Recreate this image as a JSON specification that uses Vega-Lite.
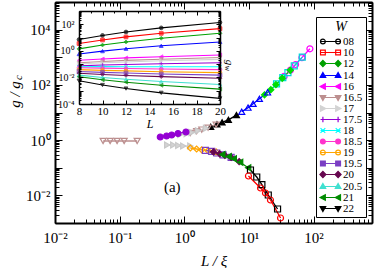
{
  "$schema": "https://vega.github.io/schema/vega-lite/v6.json",
  "width": 317,
  "height": 221,
  "autosize": {"type": "none"},
  "padding": {"left": 55, "top": 2, "right": 2, "bottom": 45},
  "background": "white",
  "datasets": {
    "main": [
      {"W": "08", "x": 35.0, "g": 203}, {"W": "08", "x": 43.8, "g": 343}, {"W": "08", "x": 52.6, "g": 547}, {"W": "08", "x": 65.9, "g": 971}, {"W": "08", "x": 87.6, "g": 2023},
      {"W": "10", "x": 26.7, "g": 108}, {"W": "10", "x": 33.4, "g": 182}, {"W": "10", "x": 40.1, "g": 278}, {"W": "10", "x": 50.2, "g": 486}, {"W": "10", "x": 66.8, "g": 1012},
      {"W": "12", "x": 17.4, "g": 43.7}, {"W": "12", "x": 21.8, "g": 66.8}, {"W": "12", "x": 26.1, "g": 102}, {"W": "12", "x": 32.7, "g": 173}, {"W": "12", "x": 43.5, "g": 337},
      {"W": "14", "x": 7.73, "g": 10.7}, {"W": "14", "x": 9.68, "g": 15.0}, {"W": "14", "x": 11.6, "g": 20.7}, {"W": "14", "x": 14.5, "g": 31.3}, {"W": "14", "x": 19.4, "g": 53.4},
      {"W": "16", "x": 2.56, "g": 3.01}, {"W": "16", "x": 3.20, "g": 3.71}, {"W": "16", "x": 3.84, "g": 4.42}, {"W": "16", "x": 4.81, "g": 5.44}, {"W": "16", "x": 6.40, "g": 8.05},
      {"W": "16.5", "x": 1.24, "g": 1.81}, {"W": "16.5", "x": 1.55, "g": 2.12}, {"W": "16.5", "x": 1.86, "g": 2.40}, {"W": "16.5", "x": 2.33, "g": 2.82}, {"W": "16.5", "x": 3.10, "g": 3.61},
      {"W": "17", "x": 0.867, "g": 1.60}, {"W": "17", "x": 1.09, "g": 1.72}, {"W": "17", "x": 1.30, "g": 1.87}, {"W": "17", "x": 1.63, "g": 2.19}, {"W": "17", "x": 2.17, "g": 2.68},
      {"W": "17.5", "x": 0.425, "g": 1.30}, {"W": "17.5", "x": 0.532, "g": 1.41}, {"W": "17.5", "x": 0.638, "g": 1.53}, {"W": "17.5", "x": 0.798, "g": 1.74}, {"W": "17.5", "x": 1.06, "g": 1.97},
      {"W": "18", "x": 0.0555, "g": 0.93}, {"W": "18", "x": 0.0713, "g": 0.93}, {"W": "18", "x": 0.0914, "g": 0.93}, {"W": "18", "x": 0.1175, "g": 0.93}, {"W": "18", "x": 0.1866, "g": 0.93},
      {"W": "18.5", "x": 0.544, "g": 0.667}, {"W": "18.5", "x": 0.675, "g": 0.667}, {"W": "18.5", "x": 0.807, "g": 0.64}, {"W": "18.5", "x": 0.964, "g": 0.61}, {"W": "18.5", "x": 1.24, "g": 0.61},
      {"W": "19", "x": 1.24, "g": 0.519}, {"W": "19", "x": 1.55, "g": 0.477}, {"W": "19", "x": 1.86, "g": 0.447}, {"W": "19", "x": 2.33, "g": 0.414}, {"W": "19", "x": 3.10, "g": 0.375},
      {"W": "19.5", "x": 2.12, "g": 0.428}, {"W": "19.5", "x": 2.65, "g": 0.391}, {"W": "19.5", "x": 3.18, "g": 0.342}, {"W": "19.5", "x": 3.98, "g": 0.294}, {"W": "19.5", "x": 5.30, "g": 0.237},
      {"W": "20", "x": 2.82, "g": 0.375}, {"W": "20", "x": 3.52, "g": 0.320}, {"W": "20", "x": 4.23, "g": 0.282}, {"W": "20", "x": 5.30, "g": 0.237}, {"W": "20", "x": 7.05, "g": 0.167},
      {"W": "20.5", "x": 3.88, "g": 0.299}, {"W": "20.5", "x": 4.86, "g": 0.255}, {"W": "20.5", "x": 5.83, "g": 0.211}, {"W": "20.5", "x": 7.31, "g": 0.159}, {"W": "20.5", "x": 9.72, "g": 0.100},
      {"W": "21", "x": 10.55, "g": 0.083}, {"W": "21", "x": 13.2, "g": 0.0462}, {"W": "21", "x": 15.85, "g": 0.0245}, {"W": "21", "x": 19.9, "g": 0.0103}, {"W": "21", "x": 27.7, "g": 0.00321},
      {"W": "22", "x": 9.82, "g": 0.0502}, {"W": "22", "x": 15.1, "g": 0.0185}, {"W": "22", "x": 18.0, "g": 0.0122}, {"W": "22", "x": 21.5, "g": 0.00681}, {"W": "22", "x": 30.8, "g": 0.00152}
    ],
    "inset": [
      {"W": "08", "L": 8, "g": 7.08}, {"W": "08", "L": 10, "g": 14.5}, {"W": "08", "L": 12, "g": 26.3}, {"W": "08", "L": 15, "g": 53.7}, {"W": "08", "L": 20, "g": 138},
      {"W": "10", "L": 8, "g": 3.55}, {"W": "10", "L": 10, "g": 6.61}, {"W": "10", "L": 12, "g": 11.2}, {"W": "10", "L": 15, "g": 20.9}, {"W": "10", "L": 20, "g": 46.8},
      {"W": "12", "L": 8, "g": 1.41}, {"W": "12", "L": 10, "g": 2.75}, {"W": "12", "L": 12, "g": 4.68}, {"W": "12", "L": 15, "g": 8.91}, {"W": "12", "L": 20, "g": 20.9},
      {"W": "14", "L": 8, "g": 0.575}, {"W": "14", "L": 10, "g": 0.955}, {"W": "14", "L": 12, "g": 1.45}, {"W": "14", "L": 15, "g": 2.40}, {"W": "14", "L": 20, "g": 4.68},
      {"W": "16", "L": 8, "g": 0.195}, {"W": "16", "L": 10, "g": 0.245}, {"W": "16", "L": 12, "g": 0.295}, {"W": "16", "L": 15, "g": 0.363}, {"W": "16", "L": 20, "g": 0.490},
      {"W": "16.5", "L": 8, "g": 0.126}, {"W": "16.5", "L": 10, "g": 0.158}, {"W": "16.5", "L": 12, "g": 0.191}, {"W": "16.5", "L": 15, "g": 0.234}, {"W": "16.5", "L": 20, "g": 0.316},
      {"W": "17", "L": 8, "g": 0.102}, {"W": "17", "L": 10, "g": 0.126}, {"W": "17", "L": 12, "g": 0.145}, {"W": "17", "L": 15, "g": 0.178}, {"W": "17", "L": 20, "g": 0.229},
      {"W": "17.5", "L": 8, "g": 0.0741}, {"W": "17.5", "L": 10, "g": 0.0851}, {"W": "17.5", "L": 12, "g": 0.0933}, {"W": "17.5", "L": 15, "g": 0.107}, {"W": "17.5", "L": 20, "g": 0.126},
      {"W": "18", "L": 8, "g": 0.0631}, {"W": "18", "L": 10, "g": 0.0646}, {"W": "18", "L": 12, "g": 0.0631}, {"W": "18", "L": 15, "g": 0.0631}, {"W": "18", "L": 20, "g": 0.0631},
      {"W": "18.5", "L": 8, "g": 0.0537}, {"W": "18.5", "L": 10, "g": 0.0501}, {"W": "18.5", "L": 12, "g": 0.0468}, {"W": "18.5", "L": 15, "g": 0.0427}, {"W": "18.5", "L": 20, "g": 0.0389},
      {"W": "19", "L": 8, "g": 0.0389}, {"W": "19", "L": 10, "g": 0.0339}, {"W": "19", "L": 12, "g": 0.0309}, {"W": "19", "L": 15, "g": 0.0269}, {"W": "19", "L": 20, "g": 0.0229},
      {"W": "19.5", "L": 8, "g": 0.0282}, {"W": "19.5", "L": 10, "g": 0.0240}, {"W": "19.5", "L": 12, "g": 0.0214}, {"W": "19.5", "L": 15, "g": 0.0182}, {"W": "19.5", "L": 20, "g": 0.0148},
      {"W": "20", "L": 8, "g": 0.0204}, {"W": "20", "L": 10, "g": 0.0166}, {"W": "20", "L": 12, "g": 0.0141}, {"W": "20", "L": 15, "g": 0.0115}, {"W": "20", "L": 20, "g": 0.00871},
      {"W": "20.5", "L": 8, "g": 0.0148}, {"W": "20.5", "L": 10, "g": 0.0100}, {"W": "20.5", "L": 12, "g": 0.00724}, {"W": "20.5", "L": 15, "g": 0.00490}, {"W": "20.5", "L": 20, "g": 0.00295},
      {"W": "21", "L": 8, "g": 0.0112}, {"W": "21", "L": 10, "g": 0.00661}, {"W": "21", "L": 12, "g": 0.00437}, {"W": "21", "L": 15, "g": 0.00257}, {"W": "21", "L": 20, "g": 0.00132},
      {"W": "22", "L": 8, "g": 0.00562}, {"W": "22", "L": 10, "g": 0.00269}, {"W": "22", "L": 12, "g": 0.00145}, {"W": "22", "L": 15, "g": 0.000692}, {"W": "22", "L": 20, "g": 0.000263}
    ]
  },
  "layer": [
    {
      "data": {"name": "main"},
      "mark": {"type": "line", "strokeWidth": 1.3},
      "encoding": {
        "x": {"field": "x", "type": "quantitative", "scale": {"type": "log", "domain": [0.01, 800]},
          "axis": {"orient": "bottom", "values": [0.01,0.02,0.03,0.04,0.05,0.06,0.07,0.08,0.09,0.1,0.2,0.3,0.4,0.5,0.6,0.7,0.8,0.9,1,2,3,4,5,6,7,8,9,10,20,30,40,50,60,70,80,90,100,200,300,400,500,600,700,800],
            "labelExpr": "abs(log(datum.value)/LN10 - round(log(datum.value)/LN10)) > 0.01 ? '' : round(log(datum.value)/LN10) == -2 ? '10⁻²' : round(log(datum.value)/LN10) == -1 ? '10⁻¹' : round(log(datum.value)/LN10) == 0 ? '10⁰' : round(log(datum.value)/LN10) == 1 ? '10¹' : '10²'",
            "tickSize": {"condition": {"test": "abs(log(datum.value)/LN10 - round(log(datum.value)/LN10)) < 0.01", "value": -7}, "value": -4},
            "labelPadding": 14, "domainWidth": 2, "tickWidth": 1, "labelFontSize": 15, "labelFlush": false, "labelOverlap": false,
            "title": "L / ξ", "titleFontSize": 15, "titleFontStyle": "italic", "titleFontWeight": "normal", "titlePadding": 5}},
        "y": {"field": "g", "type": "quantitative", "scale": {"type": "log", "domain": [0.001, 100000]},
          "axis": {"orient": "left", "values": [0.001,0.002,0.003,0.004,0.005,0.006,0.007,0.008,0.009,0.01,0.02,0.03,0.04,0.05,0.06,0.07,0.08,0.09,0.1,0.2,0.3,0.4,0.5,0.6,0.7,0.8,0.9,1,2,3,4,5,6,7,8,9,10,20,30,40,50,60,70,80,90,100,200,300,400,500,600,700,800,900,1000,2000,3000,4000,5000,6000,7000,8000,9000,10000,20000,30000,40000,50000,60000,70000,80000,90000,100000],
            "labelExpr": "abs(log(datum.value)/LN10 - round(log(datum.value)/LN10)) > 0.01 ? '' : round(log(datum.value)/LN10) == -2 ? '10⁻²' : round(log(datum.value)/LN10) == 0 ? '10⁰' : round(log(datum.value)/LN10) == 2 ? '10²' : round(log(datum.value)/LN10) == 4 ? '10⁴' : ''",
            "tickSize": {"condition": {"test": "abs(log(datum.value)/LN10 - round(log(datum.value)/LN10)) < 0.01", "value": -7}, "value": -4},
            "labelPadding": 12, "domainWidth": 2, "tickWidth": 1, "labelFontSize": 15, "labelFlush": false, "labelOverlap": false,
            "title": "g / g", "titleFontSize": 15, "titleFontStyle": "italic", "titleFontWeight": "normal", "titleX": -41, "titleY": 92, "titleAngle": -90, "titleAlign": "center", "titleBaseline": "middle"}},
        "color": {"field": "W", "type": "nominal", "legend": null,
          "scale": {"domain": ["08","10","12","14","16","16.5","17","17.5","18","18.5","19","19.5","20","20.5","21","22"],
            "range": ["#ff00ff","#00d8d8","#00dd00","#0000ff","#000000","#bc8f8f","#d3d3d3","#9400d3","#bc8f8f","#c8c8c8","#ffa500","#7b3fc4","#67074f","#008b00","#000000","#ff0000"]}}
      }
    },
    {
      "data": {"name": "main"},
      "mark": {"type": "point", "size": 36, "strokeWidth": 1.2, "opacity": 1},
      "encoding": {
        "x": {"field": "x", "type": "quantitative", "scale": {"type": "log", "domain": [0.01, 800]},
          "axis": {"orient": "top", "values": [0.01,0.02,0.03,0.04,0.05,0.06,0.07,0.08,0.09,0.1,0.2,0.3,0.4,0.5,0.6,0.7,0.8,0.9,1,2,3,4,5,6,7,8,9,10,20,30,40,50,60,70,80,90,100,200,300,400,500,600,700,800],
            "labels": false, "tickSize": {"condition": {"test": "abs(log(datum.value)/LN10 - round(log(datum.value)/LN10)) < 0.01", "value": -7}, "value": -4},
            "domainWidth": 2, "tickWidth": 1, "title": null}},
        "y": {"field": "g", "type": "quantitative", "scale": {"type": "log", "domain": [0.001, 100000]},
          "axis": {"orient": "right", "values": [0.001,0.002,0.003,0.004,0.005,0.006,0.007,0.008,0.009,0.01,0.02,0.03,0.04,0.05,0.06,0.07,0.08,0.09,0.1,0.2,0.3,0.4,0.5,0.6,0.7,0.8,0.9,1,2,3,4,5,6,7,8,9,10,20,30,40,50,60,70,80,90,100,200,300,400,500,600,700,800,900,1000,2000,3000,4000,5000,6000,7000,8000,9000,10000,20000,30000,40000,50000,60000,70000,80000,90000,100000],
            "labels": false, "tickSize": {"condition": {"test": "abs(log(datum.value)/LN10 - round(log(datum.value)/LN10)) < 0.01", "value": -7}, "value": -4},
            "domainWidth": 2, "tickWidth": 1,
            "title": "c", "titleFontSize": 11, "titleFontStyle": "italic", "titleFontWeight": "normal", "titleX": -354, "titleY": 75, "titleAngle": -90, "titleAlign": "center", "titleBaseline": "middle"}},
        "shape": {"field": "W", "type": "nominal", "legend": null,
          "scale": {"domain": ["08","10","12","14","16","16.5","17","17.5","18","18.5","19","19.5","20","20.5","21","22"],
            "range": ["circle","square","diamond","triangle-up","triangle-up","triangle-down","triangle-right","circle","triangle-down","triangle-right","diamond","square","diamond","triangle-left","square","circle"]}},
        "stroke": {"field": "W", "type": "nominal", "legend": null,
          "scale": {"domain": ["08","10","12","14","16","16.5","17","17.5","18","18.5","19","19.5","20","20.5","21","22"],
            "range": ["#ff00ff","#00d8d8","#00dd00","#0000ff","#000000","#bc8f8f","#c8c8c8","#9400d3","#bc8f8f","#c8c8c8","#ffa500","#7b3fc4","#67074f","#008b00","#000000","#ff0000"]}},
        "fill": {"field": "W", "type": "nominal", "legend": null,
          "scale": {"domain": ["08","10","12","14","16","16.5","17","17.5","18","18.5","19","19.5","20","20.5","21","22"],
            "range": ["transparent","transparent","#00dd00","transparent","#000000","transparent","#d3d3d3","#9400d3","transparent","#d3d3d3","transparent","transparent","#67074f","#008b00","transparent","transparent"]}}
      }
    },
    {
      "data": {"values": [{}]},
      "mark": {"type": "text", "text": "(a)", "fontSize": 15, "font": "Liberation Serif", "color": "black"},
      "encoding": {
        "x": {"datum": 0.652, "type": "quantitative", "scale": {"type": "log", "domain": [0.01, 800]}, "axis": null},
        "y": {"datum": 0.0201, "type": "quantitative", "scale": {"type": "log", "domain": [0.001, 100000]}, "axis": null}
      }
    },
    {
      "data": {"values": [{}]},
      "mark": {"type": "rect", "fill": "white"},
      "encoding": {
        "x": {"datum": 8, "type": "quantitative", "scale": {"domain": [8, 20], "range": [24, 165], "nice": false, "zero": false}, "axis": null},
        "x2": {"datum": 20},
        "y": {"datum": 0.0001, "type": "quantitative", "scale": {"type": "log", "domain": [0.0001, 1000], "range": [102, 9]}, "axis": null},
        "y2": {"datum": 1000}
      }
    },
    {
      "data": {"name": "inset"},
      "mark": {"type": "line", "strokeWidth": 1.1},
      "encoding": {
        "x": {"field": "L", "type": "quantitative", "scale": {"domain": [8, 20], "range": [24, 165], "nice": false, "zero": false},
          "axis": {"orient": "bottom", "offset": -119, "values": [8,9,10,11,12,13,14,15,16,17,18,19,20],
            "labelExpr": "datum.value % 2 == 0 ? datum.label : ''",
            "tickSize": {"condition": {"test": "datum.value % 2 == 0", "value": -4}, "value": -2},
            "labelPadding": 5, "domainWidth": 1.5, "tickWidth": 1, "labelFontSize": 11, "labelFlush": false, "labelOverlap": false,
            "title": "L", "titleFontSize": 12, "titleFontStyle": "italic", "titleFontWeight": "normal", "titlePadding": 0, "zindex": 1}},
        "y": {"field": "g", "type": "quantitative", "scale": {"type": "log", "domain": [0.0001, 1000], "range": [102, 9]},
          "axis": {"orient": "left", "offset": -24, "values": [0.0001,0.0002,0.0003,0.0004,0.0005,0.0006,0.0007,0.0008,0.0009,0.001,0.002,0.003,0.004,0.005,0.006,0.007,0.008,0.009,0.01,0.02,0.03,0.04,0.05,0.06,0.07,0.08,0.09,0.1,0.2,0.3,0.4,0.5,0.6,0.7,0.8,0.9,1,2,3,4,5,6,7,8,9,10,20,30,40,50,60,70,80,90,100,200,300,400,500,600,700,800,900,1000],
            "labelExpr": "abs(log(datum.value)/LN10 - round(log(datum.value)/LN10)) > 0.01 ? '' : round(log(datum.value)/LN10) == -4 ? '10⁻⁴' : round(log(datum.value)/LN10) == -2 ? '10⁻²' : round(log(datum.value)/LN10) == 0 ? '10⁰' : round(log(datum.value)/LN10) == 2 ? '10²' : ''",
            "tickSize": {"condition": {"test": "abs(log(datum.value)/LN10 - round(log(datum.value)/LN10)) < 0.01", "value": -4}, "value": -2},
            "labelPadding": 9, "domainWidth": 1.5, "tickWidth": 1, "labelFontSize": 10, "labelFlush": false, "labelOverlap": false,
            "title": null, "zindex": 1}},
        "color": {"field": "W", "type": "nominal", "legend": null,
          "scale": {"domain": ["08","10","12","14","16","16.5","17","17.5","18","18.5","19","19.5","20","20.5","21","22"],
            "range": ["#000000","#ff0000","#00a000","#0000ff","#ff00ff","#bc8f8f","#d3d3d3","#9400d3","#00ffff","#ff33cc","#ffa500","#7b3fc4","#67074f","#40e0d0","#008b00","#000000"]}}
      }
    },
    {
      "data": {"name": "inset"},
      "mark": {"type": "point", "size": 14, "strokeWidth": 1},
      "encoding": {
        "x": {"field": "L", "type": "quantitative", "scale": {"domain": [8, 20], "range": [24, 165], "nice": false, "zero": false},
          "axis": {"orient": "top", "offset": -9, "values": [8,9,10,11,12,13,14,15,16,17,18,19,20], "labels": false,
            "tickSize": {"condition": {"test": "datum.value % 2 == 0", "value": -4}, "value": -2},
            "domainWidth": 1.5, "tickWidth": 1,
            "title": "w", "titleFontSize": 8, "titleFontStyle": "italic", "titleFontWeight": "normal", "titleX": 171, "titleY": 57, "titleAngle": 90, "titleAlign": "center", "titleBaseline": "middle", "zindex": 1}},
        "y": {"field": "g", "type": "quantitative", "scale": {"type": "log", "domain": [0.0001, 1000], "range": [102, 9]},
          "axis": {"orient": "right", "offset": -152, "values": [0.0001,0.0002,0.0003,0.0004,0.0005,0.0006,0.0007,0.0008,0.0009,0.001,0.002,0.003,0.004,0.005,0.006,0.007,0.008,0.009,0.01,0.02,0.03,0.04,0.05,0.06,0.07,0.08,0.09,0.1,0.2,0.3,0.4,0.5,0.6,0.7,0.8,0.9,1,2,3,4,5,6,7,8,9,10,20,30,40,50,60,70,80,90,100,200,300,400,500,600,700,800,900,1000],
            "labels": false,
            "tickSize": {"condition": {"test": "abs(log(datum.value)/LN10 - round(log(datum.value)/LN10)) < 0.01", "value": -4}, "value": -2},
            "domainWidth": 1.5, "tickWidth": 1,
            "title": "g", "titleFontSize": 11, "titleFontStyle": "italic", "titleFontWeight": "normal", "titleX": 8, "titleY": 60, "titleAngle": 90, "titleAlign": "center", "titleBaseline": "middle", "zindex": 1}},
        "shape": {"field": "W", "type": "nominal", "legend": null,
          "scale": {"domain": ["08","10","12","14","16","16.5","17","17.5","18","18.5","19","19.5","20","20.5","21","22"],
            "range": ["circle","square","diamond","triangle-up","triangle-left","triangle-down","triangle-right","M-1,0H1M0,-1V1","M-1,-1L1,1M-1,1L1,-1","circle","circle","square","diamond","triangle-up","triangle-left","triangle-down"]}},
        "stroke": {"field": "W", "type": "nominal", "legend": null,
          "scale": {"domain": ["08","10","12","14","16","16.5","17","17.5","18","18.5","19","19.5","20","20.5","21","22"],
            "range": ["#000000","#ff0000","#00a000","#0000ff","#ff00ff","#bc8f8f","#d3d3d3","#9400d3","#00ffff","#ff33cc","#ffa500","#7b3fc4","#67074f","#40e0d0","#008b00","#000000"]}},
        "fill": {"field": "W", "type": "nominal", "legend": null,
          "scale": {"domain": ["08","10","12","14","16","16.5","17","17.5","18","18.5","19","19.5","20","20.5","21","22"],
            "range": ["#000000","#ff0000","#00a000","#0000ff","#ff00ff","#bc8f8f","#d3d3d3","#9400d3","#00ffff","#ff33cc","#ffa500","#7b3fc4","#67074f","#40e0d0","#008b00","#000000"]}}
      }
    },
    {
      "data": {"name": "inset"},
      "transform": [{"filter": "datum.W == 'none'"}],
      "mark": {"type": "point"},
      "encoding": {
        "shape": {"field": "W", "type": "nominal", "title": "W",
          "legend": {"rowPadding": -2, "symbolSize": 64, "labelOffset": 13, "labelFontSize": 11, "padding": 3},
          "scale": {"domain": ["08","10","12","14","16","16.5","17","17.5","18","18.5","19","19.5","20","20.5","21","22"],
            "range": [
              "M-1,0H4M0.2,0A0.6,0.6,0,1,1,-1,0A0.6,0.6,0,1,1,0.2,0ZM4,0A0.6,0.6,0,1,1,2.8,0A0.6,0.6,0,1,1,4,0Z",
              "M-1,0H4M-1,-0.6H0.2V0.6H-1ZM2.8,-0.6H4V0.6H2.8Z",
              "M-1,0H4M-0.4,-0.8L0.35,0L-0.4,0.8L-1.15,0ZM3.4,-0.8L4.15,0L3.4,0.8L2.65,0Z",
              "M-1,0H4M-0.4,-0.75L0.3,0.5H-1.1ZM3.4,-0.75L4.1,0.5H2.7Z",
              "M-1,0H4M-1.1,0L0.2,-0.7V0.7ZM2.7,0L4,-0.7V0.7Z",
              "M-1,0H4M-0.4,0.75L0.3,-0.5H-1.1ZM3.4,0.75L4.1,-0.5H2.7Z",
              "M-1,0H4M0.3,0L-1,-0.7V0.7ZM4.1,0L2.8,-0.7V0.7Z",
              "M-1,0H4M-0.4,-0.7V0.7M3.4,-0.7V0.7",
              "M-1,0H4M-1,-0.6L0.2,0.6M-1,0.6L0.2,-0.6M2.8,-0.6L4,0.6M2.8,0.6L4,-0.6",
              "M-1,0H4M0.2,0A0.6,0.6,0,1,1,-1,0A0.6,0.6,0,1,1,0.2,0ZM4,0A0.6,0.6,0,1,1,2.8,0A0.6,0.6,0,1,1,4,0Z",
              "M-1,0H4M0.2,0A0.6,0.6,0,1,1,-1,0A0.6,0.6,0,1,1,0.2,0ZM4,0A0.6,0.6,0,1,1,2.8,0A0.6,0.6,0,1,1,4,0Z",
              "M-1,0H4M-1,-0.6H0.2V0.6H-1ZM2.8,-0.6H4V0.6H2.8Z",
              "M-1,0H4M-0.4,-0.8L0.35,0L-0.4,0.8L-1.15,0ZM3.4,-0.8L4.15,0L3.4,0.8L2.65,0Z",
              "M-1,0H4M-0.4,-0.75L0.3,0.5H-1.1ZM3.4,-0.75L4.1,0.5H2.7Z",
              "M-1,0H4M-1.1,0L0.2,-0.7V0.7ZM2.7,0L4,-0.7V0.7Z",
              "M-1,0H4M-0.4,0.75L0.3,-0.5H-1.1ZM3.4,0.75L4.1,-0.5H2.7Z"
            ]}},
        "stroke": {"field": "W", "type": "nominal", "title": "W",
          "legend": {"rowPadding": -2, "symbolSize": 64, "labelOffset": 13, "labelFontSize": 11, "padding": 3},
          "scale": {"domain": ["08","10","12","14","16","16.5","17","17.5","18","18.5","19","19.5","20","20.5","21","22"],
            "range": ["#000000","#ff0000","#00a000","#0000ff","#ff00ff","#bc8f8f","#d3d3d3","#9400d3","#00ffff","#ff33cc","#ffa500","#7b3fc4","#67074f","#40e0d0","#008b00","#000000"]}},
        "fill": {"field": "W", "type": "nominal", "title": "W",
          "legend": {"rowPadding": -2, "symbolSize": 64, "labelOffset": 13, "labelFontSize": 11, "padding": 3},
          "scale": {"domain": ["08","10","12","14","16","16.5","17","17.5","18","18.5","19","19.5","20","20.5","21","22"],
            "range": ["white","white","#00a000","#0000ff","#ff00ff","#bc8f8f","#d3d3d3","#9400d3","#00ffff","#ff33cc","white","#7b3fc4","#67074f","#40e0d0","#008b00","#000000"]}}
      }
    }
  ],
  "resolve": {
    "scale": {"x": "independent", "y": "independent", "color": "independent", "shape": "independent", "stroke": "independent", "fill": "independent"},
    "axis": {"x": "independent", "y": "independent"}
  },
  "config": {
    "font": "Liberation Serif",
    "view": {"stroke": null},
    "axis": {"domainColor": "black", "tickColor": "black", "labelColor": "black", "titleColor": "black", "labelFont": "Liberation Serif", "titleFont": "Liberation Serif", "grid": false},
    "legend": {"orient": "none", "legendX": 261, "legendY": 15, "strokeColor": "black", "fillColor": "white", "padding": 3,
      "titleFont": "Liberation Serif", "titleFontSize": 14, "titleFontStyle": "italic", "titleFontWeight": "normal", "titleAnchor": "middle", "titleColor": "black", "titlePadding": 2,
      "labelFont": "Liberation Serif", "labelFontSize": 11, "labelColor": "black", "labelOffset": 13,
      "symbolSize": 64, "symbolStrokeWidth": 1.2, "symbolOpacity": 1, "rowPadding": -2}
  }
}
